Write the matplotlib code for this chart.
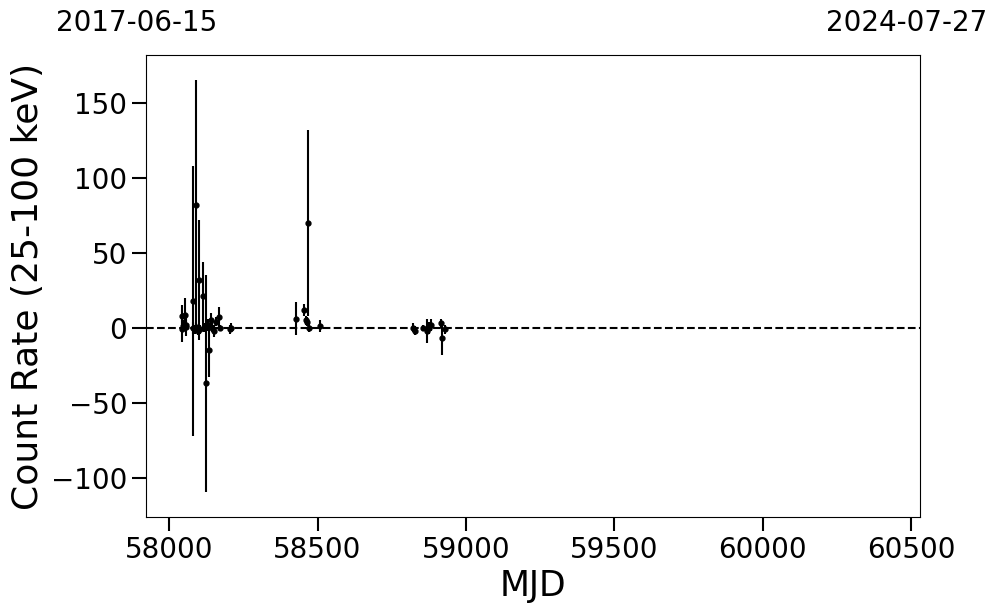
import numpy as np
import matplotlib
matplotlib.use('Agg')
import matplotlib.pyplot as plt

# Light curve points (MJD, count rate, 1-sigma error)
mjd = np.array([58043, 58044, 58046, 58055, 58057, 58058,
                58081, 58082, 58086, 58091, 58092, 58097, 58101, 58103,
                58115, 58118, 58125, 58130, 58135, 58140, 58145, 58152,
                58158, 58168, 58172, 58205, 58210,
                58428, 58455, 58460, 58465, 58468, 58470, 58509,
                58822, 58828, 58856, 58869, 58876, 58882, 58915, 58920, 58930])
rate = np.array([8.0, -0.6, 1.0, 8.7, 0.5, 2.0,
                 18.0, 0.0, -1.0, 82.0, 0.5, -2.0, 32.0, -1.0,
                 21.0, 0.0, -37.0, 2.0, -15.0, 5.0, 0.0, -2.0,
                 4.0, 7.0, 0.0, -1.0, 0.0,
                 6.0, 12.0, 5.0, 4.0, 70.0, 0.0, 1.0,
                 0.0, -2.0, 0.0, -2.0, 0.0, 2.0, 3.0, -7.0, -1.0])
err = np.array([7.0, 9.0, 4.0, 11.0, 6.0, 3.0,
                90.0, 4.0, 3.0, 83.0, 3.0, 3.0, 40.0, 3.0,
                23.0, 3.0, 72.0, 4.0, 18.0, 5.0, 3.0, 4.0,
                3.0, 7.0, 2.0, 3.0, 3.0,
                11.0, 4.0, 3.0, 3.0, 62.0, 3.0, 4.0,
                3.0, 3.0, 2.0, 8.0, 4.0, 4.0, 3.0, 11.0, 3.0])

start_label = '2017-06-15'
end_label = '2024-07-27'

fig = plt.figure(figsize=(9.97, 6.13), dpi=100)
ax = fig.add_axes([0.1464, 0.1566, 0.7764, 0.7537])

ax.errorbar(mjd, rate, yerr=err, fmt='o', color='black', ecolor='black',
            markersize=3.5, elinewidth=1.5, capsize=0)
ax.axhline(0, color='black', linestyle='--', linewidth=1.5)

ax.set_xlim(57922, 60530)
ax.set_ylim(-126, 182)
ax.set_xticks([58000, 58500, 59000, 59500, 60000, 60500])
ax.set_yticks([-100, -50, 0, 50, 100, 150])

ax.set_xlabel('MJD', fontsize=25)
ax.set_ylabel('Count Rate (25-100 keV)', fontsize=26)
ax.tick_params(axis='both', which='major', labelsize=20, length=10, width=1.5)

fig.text(0.056, 0.962, start_label, fontsize=20, ha='left', va='center')
fig.text(0.990, 0.962, end_label, fontsize=20, ha='right', va='center')

fig.savefig('out.png', dpi=100)
